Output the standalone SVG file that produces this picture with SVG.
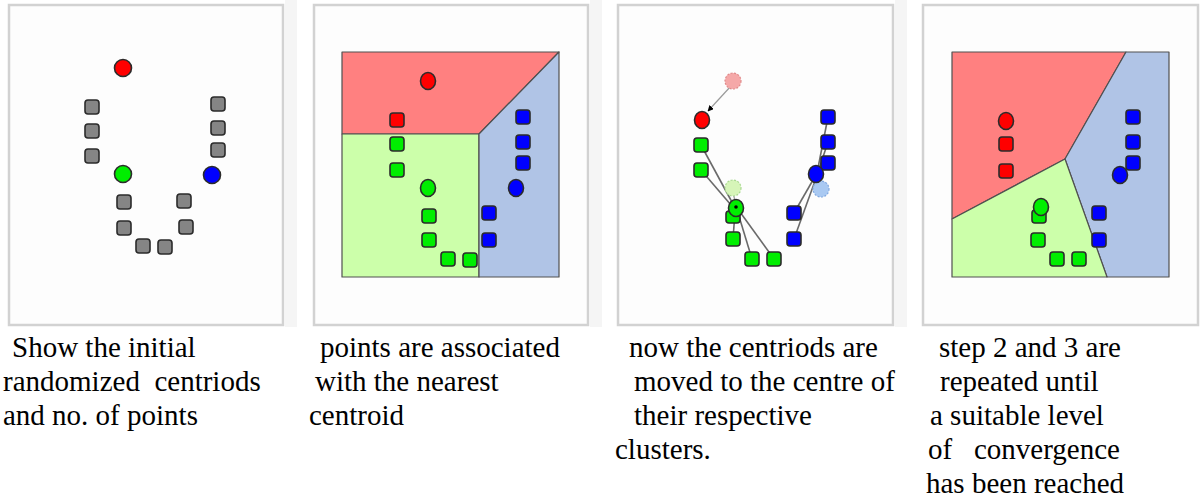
<svg xmlns="http://www.w3.org/2000/svg" width="1200" height="497" viewBox="0 0 1200 497">
<style>
.bg{fill:#ffffff}
.band{fill:#f5f5f5}
.frame{fill:#fdfdfd;stroke:#d2d2d2;stroke-width:2.5}
.reg{stroke:#505050;stroke-width:1.2;stroke-linejoin:round}
.rr{fill:#ff8080}
.rg{fill:#ccffaa}
.rb{fill:#b0c4e6}
.pt{stroke:#2b2b2b;stroke-width:1.6}
.gy{fill:#858585}
.r{fill:#ff0000}
.g{fill:#00ee00}
.b{fill:#0000ff}
.ghost{stroke-width:1.2;stroke-dasharray:2 1.5}
.gr{fill:#f5a8a8;stroke:#e08a8a}
.gg{fill:#d6f5b8;stroke:#a8d890}
.gb{fill:#a9c9f2;stroke:#7fa8e0}
.link{stroke:#6a6a6a;stroke-width:1.6;fill:none}
.mv{stroke:#9a9a9a;stroke-width:1.2;fill:none}
</style>
<defs>
<marker id="ah" viewBox="0 0 10 10" refX="9" refY="5" markerWidth="5" markerHeight="5" orient="auto">
<path d="M0,0 L10,5 L0,10 z" fill="#000"/>
</marker>
</defs>
<rect class="bg" x="0" y="0" width="1200" height="497"/>
<g id="gaps">
<rect class="band" x="285" y="0" width="12" height="327"/>
<rect class="band" x="590" y="0" width="12" height="327"/>
<rect class="band" x="895" y="0" width="12" height="327"/>
</g>
<g id="panel-1">
<rect class="frame" x="9" y="5" width="274" height="320"/>
</g>
<g id="panel-2">
<rect class="frame" x="314" y="5" width="274" height="320"/>
<polygon class="reg rr" points="342,52 559,52 479,134 342,134"/>
<polygon class="reg rg" points="342,134 479,134 479,277 342,277"/>
<polygon class="reg rb" points="479,134 559,52 559,277 479,277"/>
</g>
<g id="panel-3">
<rect class="frame" x="618" y="5" width="275" height="320"/>
</g>
<g id="panel-4">
<rect class="frame" x="923" y="5" width="275" height="320"/>
<polygon class="reg rr" points="952,52 1126,52 1065,159 952,219"/>
<polygon class="reg rb" points="1126,52 1169,52 1169,277 1107,277 1065,159"/>
<polygon class="reg rg" points="952,219 1065,159 1107,277 952,277"/>
</g>
<g id="connectors">
<line class="mv" x1="731" y1="86" x2="708" y2="111" marker-end="url(#ah)"/>
<line class="link" x1="701" y1="145" x2="733" y2="204"/>
<line class="link" x1="701" y1="170" x2="731" y2="205"/>
<line class="link" x1="735" y1="212" x2="733" y2="239"/>
<line class="link" x1="738" y1="213" x2="752" y2="259"/>
<line class="link" x1="740" y1="212" x2="774" y2="259"/>
<line class="mv" x1="733" y1="192" x2="736" y2="206" marker-end="url(#ah)"/>
<line class="link" x1="813" y1="180" x2="794" y2="213"/>
<line class="link" x1="815" y1="181" x2="794" y2="239"/>
<line class="link" x1="818" y1="168" x2="828" y2="117"/>
<line class="link" x1="819" y1="169" x2="828" y2="142"/>
<line class="mv" x1="820" y1="186" x2="817" y2="176" marker-end="url(#ah)"/>
</g>
<g id="points-1">
<g class="pt gy">
<rect x="85" y="100" width="14" height="14" rx="3"/>
<rect x="85" y="124" width="14" height="14" rx="3"/>
<rect x="85" y="149" width="14" height="14" rx="3"/>
<rect x="211" y="97" width="14" height="14" rx="3"/>
<rect x="211" y="121" width="14" height="14" rx="3"/>
<rect x="211" y="143" width="14" height="14" rx="3"/>
<rect x="117" y="195" width="14" height="14" rx="3"/>
<rect x="117" y="221" width="14" height="14" rx="3"/>
<rect x="136" y="239" width="14" height="14" rx="3"/>
<rect x="158" y="240" width="14" height="14" rx="3"/>
<rect x="177" y="194" width="14" height="14" rx="3"/>
<rect x="179" y="220" width="14" height="14" rx="3"/>
</g>
<circle class="pt r" cx="123" cy="68" r="8.5"/>
<circle class="pt g" cx="123" cy="174" r="8.5"/>
<circle class="pt b" cx="212" cy="175" r="8.5"/>
</g>
<g id="points-2">
<ellipse class="pt r" cx="428" cy="81" rx="7.5" ry="8.5"/>
<rect class="pt r" x="390" y="113" width="14" height="14" rx="3"/>
<rect class="pt g" x="390" y="137" width="14" height="14" rx="3"/>
<rect class="pt g" x="390" y="163" width="14" height="14" rx="3"/>
<ellipse class="pt g" cx="428" cy="188" rx="7.5" ry="8.5"/>
<rect class="pt g" x="422" y="209" width="14" height="14" rx="3"/>
<rect class="pt g" x="422" y="233" width="14" height="14" rx="3"/>
<rect class="pt g" x="441" y="252" width="14" height="14" rx="3"/>
<rect class="pt g" x="463" y="253" width="14" height="14" rx="3"/>
<rect class="pt b" x="516" y="110" width="14" height="14" rx="3"/>
<rect class="pt b" x="516" y="135" width="14" height="14" rx="3"/>
<rect class="pt b" x="516" y="156" width="14" height="14" rx="3"/>
<ellipse class="pt b" cx="516" cy="188" rx="7.5" ry="8.5"/>
<rect class="pt b" x="482" y="206" width="14" height="14" rx="3"/>
<rect class="pt b" x="482" y="233" width="14" height="14" rx="3"/>
</g>
<g id="points-3">
<circle class="ghost gr" cx="733" cy="81" r="8"/>
<circle class="ghost gg" cx="733" cy="188" r="8"/>
<circle class="ghost gb" cx="821" cy="189" r="8"/>
<ellipse class="pt r" cx="702" cy="120" rx="7.5" ry="8.5"/>
<rect class="pt g" x="694" y="138" width="14" height="14" rx="3"/>
<rect class="pt g" x="694" y="163" width="14" height="14" rx="3"/>
<rect class="pt g" x="726" y="211" width="14" height="12" rx="3"/>
<ellipse class="pt g" cx="736" cy="208" rx="7.5" ry="8.5"/>
<circle cx="736" cy="207" r="1.8" fill="#000"/>
<rect class="pt g" x="726" y="232" width="14" height="14" rx="3"/>
<rect class="pt g" x="745" y="252" width="14" height="14" rx="3"/>
<rect class="pt g" x="767" y="252" width="14" height="14" rx="3"/>
<rect class="pt b" x="821" y="110" width="14" height="14" rx="3"/>
<rect class="pt b" x="821" y="135" width="14" height="14" rx="3"/>
<rect class="pt b" x="821" y="156" width="14" height="14" rx="3"/>
<ellipse class="pt b" cx="816" cy="174" rx="7.5" ry="8.5"/>
<rect class="pt b" x="787" y="206" width="14" height="14" rx="3"/>
<rect class="pt b" x="787" y="232" width="14" height="14" rx="3"/>
</g>
<g id="points-4">
<ellipse class="pt r" cx="1006" cy="121" rx="7.5" ry="8.5"/>
<rect class="pt r" x="999" y="137" width="14" height="14" rx="3"/>
<rect class="pt r" x="999" y="164" width="14" height="14" rx="3"/>
<rect class="pt g" x="1032" y="210" width="14" height="13" rx="3"/>
<ellipse class="pt g" cx="1041" cy="207" rx="7.5" ry="8.5"/>
<rect class="pt g" x="1031" y="233" width="14" height="14" rx="3"/>
<rect class="pt g" x="1050" y="252" width="14" height="14" rx="3"/>
<rect class="pt g" x="1072" y="252" width="14" height="14" rx="3"/>
<rect class="pt b" x="1126" y="110" width="14" height="14" rx="3"/>
<rect class="pt b" x="1126" y="135" width="14" height="14" rx="3"/>
<rect class="pt b" x="1126" y="156" width="14" height="14" rx="3"/>
<ellipse class="pt b" cx="1120" cy="175" rx="7.5" ry="8.5"/>
<rect class="pt b" x="1092" y="206" width="14" height="14" rx="3"/>
<rect class="pt b" x="1092" y="233" width="14" height="14" rx="3"/>
</g>
<g id="caption-1" font-family="'Liberation Serif', 'Times New Roman', serif" font-size="29" fill="#000">
<text x="12" y="357" xml:space="preserve">Show the initial</text>
<text x="3" y="391" xml:space="preserve">randomized  centriods</text>
<text x="3" y="425" xml:space="preserve">and no. of points</text>
</g>
<g id="caption-2" font-family="'Liberation Serif', 'Times New Roman', serif" font-size="29" fill="#000">
<text x="320" y="357" xml:space="preserve">points are associated</text>
<text x="315" y="391" xml:space="preserve">with the nearest</text>
<text x="309" y="425" xml:space="preserve">centroid</text>
</g>
<g id="caption-3" font-family="'Liberation Serif', 'Times New Roman', serif" font-size="29" fill="#000">
<text x="629" y="357" xml:space="preserve">now the centriods are</text>
<text x="634" y="391" xml:space="preserve">moved to the centre of</text>
<text x="634" y="425" xml:space="preserve">their respective</text>
<text x="615" y="459" xml:space="preserve">clusters.</text>
</g>
<g id="caption-4" font-family="'Liberation Serif', 'Times New Roman', serif" font-size="29" fill="#000">
<text x="939" y="357" xml:space="preserve">step 2 and 3 are</text>
<text x="940" y="391" xml:space="preserve">repeated until</text>
<text x="930" y="425" xml:space="preserve">a suitable level</text>
<text x="928" y="459" xml:space="preserve">of   convergence</text>
<text x="926" y="493" xml:space="preserve">has been reached</text>
</g>
</svg>
